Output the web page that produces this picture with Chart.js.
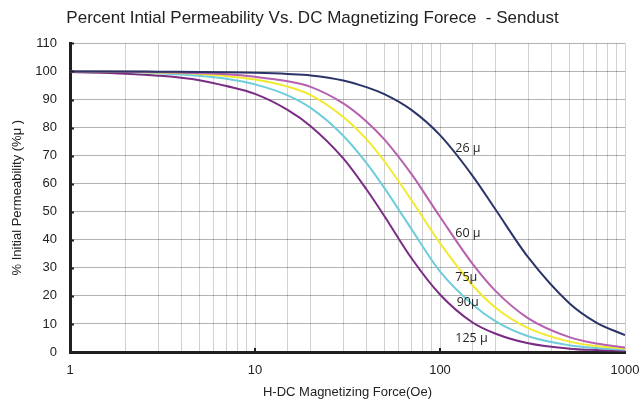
<!DOCTYPE html>
<html>
<head>
<meta charset="utf-8">
<title>Sendust permeability vs DC bias</title>
<script src="https://cdn.jsdelivr.net/npm/chart.js@4.4.1/dist/chart.umd.min.js"></script>
<style>
  html, body { margin: 0; padding: 0; background: #fff; }
  #wrap { width: 639px; height: 407px; position: relative; }
</style>
</head>
<body>
<div id="wrap"><canvas id="biasChart"></canvas></div>
<script>
// ── Data ──────────────────────────────────────────────────────
const force = [1, 2, 3, 5, 7, 10, 15, 20, 30, 40, 50, 70, 100, 150, 200, 300, 500, 700, 1000];

const mu26  = [100, 100, 99.9, 99.8, 99.7, 99.5, 99.1, 98.6, 96.8, 94.4, 91.9, 86.3, 77.3, 62.8, 50.7, 33.7, 17.4, 10.5, 6];
const mu60  = [100, 99.9, 99.8, 99.4, 99, 98.1, 96.5, 94.5, 88.6, 82.2, 75.8, 63.5, 48.2, 31.4, 21.7, 12, 5.3, 3, 1.6];
const mu75  = [100, 99.9, 99.6, 99.1, 98.4, 97.1, 94.6, 91.6, 83.8, 75.9, 68, 54.2, 38.8, 23.8, 15.8, 8.5, 3.7, 2.1, 1.2];
const mu90  = [100, 99.8, 99.4, 98.5, 97.4, 95.4, 91.5, 87, 77.1, 67.4, 58.5, 43.9, 28.7, 16.9, 10.9, 5.6, 2.4, 1.4, 0.8];
const mu125 = [99.8, 99.2, 98.5, 96.9, 94.8, 92, 86.3, 80.5, 69, 58, 48.5, 33.5, 20.5, 10.5, 6.5, 3.1, 1.2, 0.7, 0.4];

const yTicks = [0, 10, 20, 30, 40, 50, 60, 70, 80, 90, 100, 110];

// curve labels: text, H, %
const curveLabels = [
  ['26 μ', 121, 72.6],
  ['60 μ', 121, 42.4],
  ['75μ', 121, 26.7],
  ['90μ', 123, 17.8],
  ['125 μ', 121, 5]
];

const navy = '#2a3468';
const pink = '#b660b0';
const yellow = '#f2ea2e';
const cyan = '#6fcddb';
const purple = '#792c84';

const toPts = arr => arr.map((v, i) => ({ x: force[i], y: v }));

function series(label, arr, color) {
  return {
    label, data: toPts(arr),
    borderColor: color, backgroundColor: color,
    borderWidth: 2, pointRadius: 0,
    cubicInterpolationMode: 'monotone'
  };
}

// ── Extras: inner tick marks + curve labels ──────────────────
const extras = {
  id: 'extras',
  afterDatasetsDraw(chart) {
    const { ctx, scales: { x, y }, chartArea: area } = chart;
    ctx.save();
    ctx.strokeStyle = '#231f20';
    ctx.lineWidth = 2;
    ctx.beginPath();
    yTicks.forEach(t => {
      const py = Math.round(y.getPixelForValue(t)) + 0.5;
      ctx.moveTo(area.left, py);
      ctx.lineTo(area.left + 4, py);
    });
    [10, 100].forEach(t => {
      const px = Math.round(x.getPixelForValue(t));
      ctx.moveTo(px, area.bottom);
      ctx.lineTo(px, area.bottom - 4);
    });
    ctx.stroke();

    ctx.fillStyle = '#222';
    ctx.font = '12.5px "Open Sans", sans-serif';
    ctx.textBaseline = 'middle';
    ctx.textAlign = 'left';
    curveLabels.forEach(([txt, h, v]) => {
      ctx.fillText(txt, x.getPixelForValue(h), y.getPixelForValue(v));
    });
    ctx.restore();
  }
};

// ── Chart ─────────────────────────────────────────────────────
Chart.defaults.font.family = "'Liberation Sans', Arial, sans-serif";
Chart.defaults.color = '#222';

new Chart(document.getElementById('biasChart'), {
  type: 'line',
  data: {
    datasets: [
      series('26 μ', mu26, navy),
      series('60 μ', mu60, pink),
      series('75 μ', mu75, yellow),
      series('90 μ', mu90, cyan),
      series('125 μ', mu125, purple)
    ]
  },
  options: {
    responsive: true, maintainAspectRatio: false, animation: false,
    layout: { padding: { top: 0, right: 14, bottom: 0, left: 0 } },
    plugins: {
      legend: { display: false },
      tooltip: { enabled: false },
      title: {
        display: true,
        text: 'Percent Intial Permeability Vs. DC Magnetizing Forece  - Sendust',
        font: { size: 17, weight: 'normal' },
        color: '#222',
        padding: { top: 8, bottom: 15 }
      }
    },
    scales: {
      x: {
        type: 'logarithmic', min: 1, max: 1000,
        afterFit: s => { s.height = 55; s.paddingLeft = 0; s.paddingRight = 0; },
        grid: { color: 'rgba(0,0,0,0.18)', drawTicks: false },
        border: { color: '#231f20', width: 3 },
        ticks: {
          autoSkip: false, maxRotation: 0, padding: 11,
          font: { size: 13 },
          callback: v => ([1, 10, 100, 1000].includes(v) ? String(v) : '')
        },
        title: {
          display: true, text: 'H-DC Magnetizing Force(Oe)',
          font: { size: 13 }, padding: { top: 0, bottom: 7 }
        }
      },
      y: {
        min: 0, max: 110,
        afterFit: s => { s.width = 70; },
        grid: { color: 'rgba(0,0,0,0.3)', drawTicks: false },
        border: { color: '#231f20', width: 3 },
        ticks: { stepSize: 10, padding: 13, font: { size: 13 } },
        title: {
          display: true, text: '% Initial Permeability (%μ )',
          font: { size: 13 }, padding: { top: 10, bottom: 0 }
        }
      }
    }
  },
  plugins: [extras]
});
</script>
</body>
</html>
